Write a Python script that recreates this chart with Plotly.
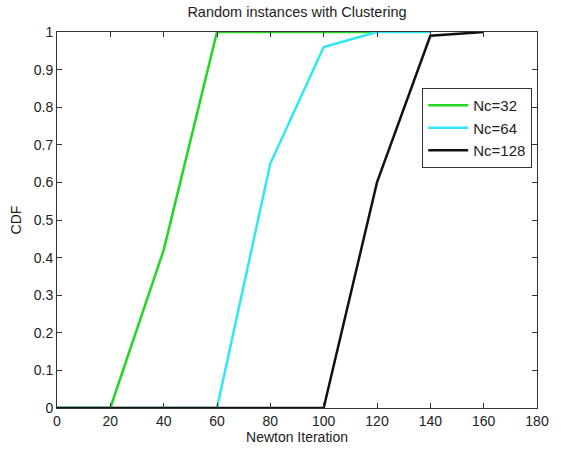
import plotly.graph_objects as go

iterations = [0, 20, 40, 60, 80, 100, 120, 140, 160]
cdf_nc32 = [0, 0, 0.42, 1, 1, 1, 1, None, None]
cdf_nc64 = [0, 0, 0, 0, 0.65, 0.96, 1, 1, None]
cdf_nc128 = [0, 0, 0, 0, 0, 0, 0.6, 0.99, 1]

series = [
    ("Nc=32", cdf_nc32, "#22d622"),
    ("Nc=64", cdf_nc64, "#2ee8f2"),
    ("Nc=128", cdf_nc128, "#111111"),
]

x_ticks = [0, 20, 40, 60, 80, 100, 120, 140, 160, 180]
y_ticks = [0, 0.1, 0.2, 0.3, 0.4, 0.5, 0.6, 0.7, 0.8, 0.9, 1]
y_tick_text = ["0", "0.1", "0.2", "0.3", "0.4", "0.5", "0.6", "0.7", "0.8", "0.9", "1"]

fig = go.Figure()
for name, vals, color in series:
    xs = [x for x, v in zip(iterations, vals) if v is not None]
    ys = [v for v in vals if v is not None]
    fig.add_trace(go.Scatter(x=xs, y=ys, mode="lines", name=name,
                             line=dict(color=color, width=2.5), cliponaxis=False))

font = "Liberation Sans, Arial, sans-serif"
axis_common = dict(showgrid=False, zeroline=False, showline=True, linecolor="#333333",
                   linewidth=1, mirror="ticks", ticks="inside", ticklen=5,
                   tickcolor="#333333", tickfont=dict(size=14, color="#222222", family=font))

fig.update_layout(
    width=561, height=452,
    margin=dict(l=57, r=12, t=32, b=38),
    paper_bgcolor="white", plot_bgcolor="white",
    title=dict(text="Random instances with Clustering", x=0.5, xanchor="center",
               xref="paper", y=1 - 12 / 452, yanchor="middle",
               font=dict(size=14.5, color="#222222", family=font)),
    xaxis=dict(range=[0, 180], tickvals=x_ticks,
               title=dict(text="Newton Iteration", standoff=1,
                          font=dict(size=14, color="#222222", family=font)),
               **axis_common),
    yaxis=dict(range=[0, 1], tickvals=y_ticks, ticktext=y_tick_text,
               title=dict(text="CDF", standoff=8,
                          font=dict(size=14, color="#222222", family=font)),
               **axis_common),
    legend=dict(x=0.99, y=0.851, xanchor="right", yanchor="top",
                bgcolor="white", bordercolor="#333333", borderwidth=1,
                font=dict(size=15, color="#222222", family=font),
                tracegroupgap=0, itemwidth=40),
    showlegend=True,
)

fig.write_html("out.html")
